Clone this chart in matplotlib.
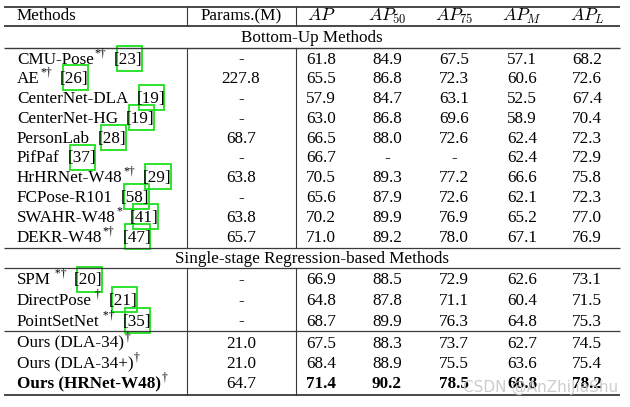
import matplotlib.pyplot as plt
from matplotlib.patches import Rectangle

plt.rcParams['font.family'] = ['Liberation Serif', 'DejaVu Serif']
plt.rcParams['mathtext.fontset'] = 'cm'

# --- table contents ---
headers = ['Methods', 'Params.(M)', '$AP$', '$AP_{50}$', '$AP_{75}$', '$AP_{M}$', '$AP_{L}$']
sections = ['Bottom-Up Methods', 'Single-stage Regression-based Methods']

bu_names = ['CMU-Pose', 'AE', 'CenterNet-DLA', 'CenterNet-HG', 'PersonLab', 'PifPaf',
            'HrHRNet-W48', 'FCPose-R101', 'SWAHR-W48', 'DEKR-W48']
bu_sups = ['*\u2020', '*\u2020', '', '', '', '', '*\u2020', '', '*', '*\u2020']
bu_cites = ['23', '26', '19', '19', '28', '37', '29', '58', '41', '47']
bu_params = ['-', '227.8', '-', '-', '68.7', '-', '63.8', '-', '63.8', '65.7']
bu_vals = [['61.8', '84.9', '67.5', '57.1', '68.2'],
           ['65.5', '86.8', '72.3', '60.6', '72.6'],
           ['57.9', '84.7', '63.1', '52.5', '67.4'],
           ['63.0', '86.8', '69.6', '58.9', '70.4'],
           ['66.5', '88.0', '72.6', '62.4', '72.3'],
           ['66.7', '-', '-', '62.4', '72.9'],
           ['70.5', '89.3', '77.2', '66.6', '75.8'],
           ['65.6', '87.9', '72.6', '62.1', '72.3'],
           ['70.2', '89.9', '76.9', '65.2', '77.0'],
           ['71.0', '89.2', '78.0', '67.1', '76.9']]

ss_names = ['SPM', 'DirectPose', 'PointSetNet']
ss_sups = [' *\u2020', ' \u2020', ' *\u2020']
ss_cites = ['20', '21', '35']
ss_params = ['-', '-', '-']
ss_vals = [['66.9', '88.5', '72.9', '62.6', '73.1'],
           ['64.8', '87.8', '71.1', '60.4', '71.5'],
           ['68.7', '89.9', '76.3', '64.8', '75.3']]

our_names = ['Ours (DLA-34)', 'Ours (DLA-34+)', 'Ours (HRNet-W48)']
our_params = ['21.0', '21.0', '64.7']
our_vals = [['67.5', '88.3', '73.7', '62.7', '74.5'],
            ['68.4', '88.9', '75.5', '63.6', '75.4'],
            ['71.4', '90.2', '78.5', '66.8', '78.2']]

# --- layout (pixels) ---
FS = 12.3
BASE = 5.5          # baseline offset below a row's centre
X_LEFT, X_RIGHT = 4, 620
X_NAME = 17
X_PARAM = 241
X_COLS = [321, 387, 454, 522, 587]
V_LINES = [187, 296]
LINE_C = '#3a3a3a'
GREEN = '#1ee01e'

fig = plt.figure(figsize=(6.3, 4.07), dpi=100)
ax = fig.add_axes([0, 0, 1, 1])
ax.set_xlim(0, 630)
ax.set_ylim(407, 0)
ax.axis('off')
r = fig.canvas.get_renderer()


def txt(x, y, s, **kw):
    kw.setdefault('fontsize', FS)
    return ax.text(x, y + BASE, s, va='baseline', **kw)


def hline(y, lw):
    ax.plot([X_LEFT, X_RIGHT], [y, y], color=LINE_C, lw=lw, solid_capstyle='butt')


def vlines(y0, y1):
    for x in V_LINES:
        ax.plot([x, x], [y0, y1], color=LINE_C, lw=0.8)


def method_label(y, name, sup='', cite='', bold=False):
    w = 'bold' if bold else 'normal'
    t = txt(X_NAME, y, name, weight=w)
    x = t.get_window_extent(r).x1
    if sup:
        s = ax.text(x + 0.5, y + BASE - 7.5, sup, fontsize=FS * 0.68, va='baseline')
        x = s.get_window_extent(r).x1
    if cite:
        c = txt(x + 8, y, '[' + cite + ']')
        bb = c.get_window_extent(r)
        ax.add_patch(Rectangle((bb.x0 + 2.5, y - 12.5), bb.width - 3.5, 25,
                               fill=False, ec=GREEN, lw=1.3))


def row(y, name, sup, cite, param, vals, bold=False):
    method_label(y, name, sup, cite, bold)
    txt(X_PARAM, y, param, ha='center')
    for x, v in zip(X_COLS, vals):
        txt(x, y, v, ha='center', weight='bold' if bold else 'normal')


# header
txt(X_NAME, 15, headers[0])
txt(X_PARAM, 15, headers[1], ha='center')
for x, h in zip(X_COLS, headers[2:]):
    txt(x, 15, h, fontsize=FS + 0.5, ha='center')

hline(7, 1.3)
vlines(7, 26)
hline(26, 1.3)
txt(312, 36, sections[0], ha='center')
hline(48, 1.0)

for i in range(len(bu_names)):
    row(58 + i * 19.8, bu_names[i], bu_sups[i], bu_cites[i], bu_params[i], bu_vals[i])
vlines(48, 248)
hline(248, 0.9)
txt(312, 257.5, sections[1], ha='center')
hline(268, 0.9)

for i in range(len(ss_names)):
    row(279 + i * 20.5, ss_names[i], ss_sups[i], ss_cites[i], ss_params[i], ss_vals[i])
hline(331, 0.9)
for i in range(len(our_names)):
    row(342 + i * 20.5, our_names[i], '\u2020', '', our_params[i], our_vals[i],
        bold=(i == 2))
vlines(268, 395)
hline(395, 1.3)

ax.text(618, 387, 'CSDN @AnZhiJiaShu', fontsize=11, ha='right', va='center',
        family='DejaVu Sans', color='#c8c8c8', alpha=0.9)

fig.savefig('out.png', dpi=100)
